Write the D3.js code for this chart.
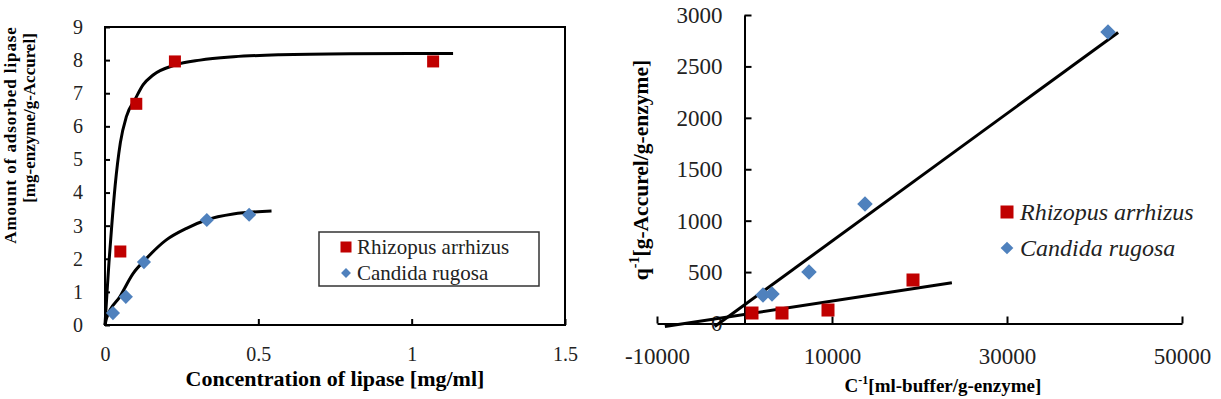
<!DOCTYPE html>
<html>
<head>
<meta charset="utf-8">
<script src="https://cdn.jsdelivr.net/npm/d3@7"></script>
<style>
body { margin: 0; background: white; }
svg text { font-family: "Liberation Serif", "Times New Roman", serif; }
</style>
</head>
<body>
<div id="chart"></div>
<script>
// Left plot: adsorption isotherm
const series_names = ["Rhizopus arrhizus", "Candida rugosa"];

const rhizopus_points = [
	{c: 0.05, q: 2.22},
	{c: 0.102, q: 6.68},
	{c: 0.228, q: 7.96},
	{c: 1.07, q: 7.96}
];
const candida_points = [
	{c: 0.026, q: 0.36},
	{c: 0.068, q: 0.85},
	{c: 0.127, q: 1.9},
	{c: 0.332, q: 3.17},
	{c: 0.47, q: 3.33}
];
// fitted curves
const rhizopus_fit = [
	{c: 0, q: 0}, {c: 0.006, q: 0.9}, {c: 0.013, q: 1.9}, {c: 0.022, q: 3.0},
	{c: 0.033, q: 4.2}, {c: 0.05, q: 5.5}, {c: 0.07, q: 6.3}, {c: 0.1, q: 6.85},
	{c: 0.124, q: 7.25}, {c: 0.157, q: 7.55}, {c: 0.228, q: 7.85}, {c: 0.31, q: 8.0},
	{c: 0.42, q: 8.1}, {c: 0.57, q: 8.16}, {c: 0.8, q: 8.19}, {c: 1.135, q: 8.2}
];
const candida_fit = [
	{c: 0, q: 0}, {c: 0.005, q: 0.2}, {c: 0.049, q: 0.86}, {c: 0.092, q: 1.56},
	{c: 0.13, q: 1.96}, {c: 0.2, q: 2.57}, {c: 0.266, q: 2.92}, {c: 0.33, q: 3.17},
	{c: 0.418, q: 3.35}, {c: 0.543, q: 3.44}
];
const left_x_ticks = [0, 0.5, 1, 1.5];
const left_y_ticks = [0, 1, 2, 3, 4, 5, 6, 7, 8, 9];

// Right plot: double reciprocal
const rhizopus_inv = [
	{x: 857, y: 102},
	{x: 4286, y: 102},
	{x: 9543, y: 131},
	{x: 19257, y: 423}
];
const candida_inv = [
	{x: 2114, y: 277},
	{x: 3143, y: 287},
	{x: 7371, y: 501},
	{x: 13771, y: 1162},
	{x: 41543, y: 2835}
];
const rhizopus_line = [{x: -9100, y: -30}, {x: 23700, y: 397}];
const candida_line = [{x: -3400, y: -30}, {x: 42700, y: 2830}];
const right_x_ticks = [-10000, 10000, 30000, 50000];
const right_y_ticks = [0, 500, 1000, 1500, 2000, 2500, 3000];

const red = "#c00000";
const blue = "#4f81bd";

const svg = d3.select("#chart").append("svg")
	.attr("width", 1221)
	.attr("height", 399);

function square(g, cx, cy, s, col) {
	g.append("rect")
		.attr("x", cx - s / 2).attr("y", cy - s / 2)
		.attr("width", s).attr("height", s)
		.attr("fill", col);
}
function diamond(g, cx, cy, s, col) {
	g.append("rect")
		.attr("x", -s / 2).attr("y", -s / 2)
		.attr("width", s).attr("height", s)
		.attr("fill", col)
		.attr("transform", `translate(${cx},${cy}) rotate(45)`);
}
function styleAxis(g, size) {
	g.attr("font-family", null);
	g.selectAll("line").attr("stroke", "#000").attr("stroke-width", 2);
	g.selectAll("text").attr("font-size", size).attr("fill", "#222");
}

// ---------- left chart ----------
const x1 = d3.scaleLinear().domain([0, 1.5]).range([105, 565]);
const y1 = d3.scaleLinear().domain([0, 9]).range([325, 27]);

const left = svg.append("g");

left.append("g")
	.attr("transform", "translate(0,325)")
	.call(d3.axisBottom(x1).tickValues(left_x_ticks).tickFormat(d => String(d)).tickSizeInner(-6).tickSizeOuter(0).tickPadding(22))
	.call(g => g.select(".domain").remove())
	.call(g => styleAxis(g, 20));

left.append("g")
	.attr("transform", "translate(105,0)")
	.call(d3.axisLeft(y1).tickValues(left_y_ticks).tickSizeInner(-5).tickSizeOuter(0).tickPadding(22))
	.call(g => g.select(".domain").remove())
	.call(g => styleAxis(g, 20));

left.append("rect")
	.attr("x", x1(0)).attr("y", y1(9))
	.attr("width", x1(1.5) - x1(0)).attr("height", y1(0) - y1(9))
	.attr("fill", "none").attr("stroke", "#000").attr("stroke-width", 2);

const fitLine1 = d3.line().x(d => x1(d.c)).y(d => y1(d.q)).curve(d3.curveMonotoneX);
[rhizopus_fit, candida_fit].forEach(f => {
	left.append("path").attr("d", fitLine1(f))
		.attr("fill", "none").attr("stroke", "#000").attr("stroke-width", 3);
});

rhizopus_points.forEach(d => square(left, x1(d.c), y1(d.q), 12, red));
candida_points.forEach(d => diamond(left, x1(d.c), y1(d.q), 10, blue));

// legend with box
left.append("rect")
	.attr("x", 319).attr("y", 232).attr("width", 220).attr("height", 54)
	.attr("fill", "white").attr("stroke", "#333").attr("stroke-width", 1.5);
square(left, 346, 247, 11, red);
diamond(left, 346, 273, 7, blue);
left.append("text").attr("x", 357).attr("y", 254).attr("font-size", 21).attr("fill", "#222").text(series_names[0]);
left.append("text").attr("x", 357).attr("y", 280).attr("font-size", 21).attr("fill", "#222").text(series_names[1]);

left.append("text")
	.attr("x", 335).attr("y", 386)
	.attr("text-anchor", "middle").attr("font-weight", "bold").attr("font-size", 22)
	.text("Concentration of lipase [mg/ml]");

left.append("text")
	.attr("transform", "translate(16,135) rotate(-90)")
	.attr("text-anchor", "middle").attr("font-weight", "bold").attr("font-size", 17)
	.attr("letter-spacing", 0.9)
	.text("Amount of adsorbed lipase");
left.append("text")
	.attr("transform", "translate(35,118) rotate(-90)")
	.attr("text-anchor", "middle").attr("font-weight", "bold").attr("font-size", 17)
	.text("[mg-enzyme/g-Accurel]");

// ---------- right chart ----------
const x2 = d3.scaleLinear().domain([-10000, 50000]).range([657, 1182]);
const y2 = d3.scaleLinear().domain([0, 3000]).range([323.5, 15]);

const right = svg.append("g");

right.append("g")
	.attr("transform", `translate(0,${y2(0)})`)
	.call(d3.axisBottom(x2).tickValues(right_x_ticks).tickFormat(d => String(d)).tickSizeInner(-7).tickSizeOuter(0).tickPadding(24))
	.call(g => g.select(".domain").attr("stroke", "#000").attr("stroke-width", 2))
	.call(g => styleAxis(g, 23));

right.append("g")
	.attr("transform", `translate(${x2(0)},0)`)
	.call(d3.axisLeft(y2).tickValues(right_y_ticks).tickFormat(d => String(d)).tickSizeInner(-7).tickSizeOuter(0).tickPadding(22))
	.call(g => g.select(".domain").attr("stroke", "#000").attr("stroke-width", 2))
	.call(g => styleAxis(g, 23));

const fitLine2 = d3.line().x(d => x2(d.x)).y(d => y2(d.y));
[rhizopus_line, candida_line].forEach(f => {
	right.append("path").attr("d", fitLine2(f))
		.attr("fill", "none").attr("stroke", "#000").attr("stroke-width", 3);
});

rhizopus_inv.forEach(d => square(right, x2(d.x), y2(d.y), 13, red));
candida_inv.forEach(d => diamond(right, x2(d.x), y2(d.y), 11, blue));

square(right, 1007, 212, 13, red);
diamond(right, 1007, 248, 9, blue);
right.append("text").attr("x", 1020).attr("y", 220).attr("font-size", 24).attr("font-style", "italic").attr("fill", "#222").text(series_names[0]);
right.append("text").attr("x", 1020).attr("y", 256).attr("font-size", 24).attr("font-style", "italic").attr("fill", "#222").text(series_names[1]);

const xl = right.append("text")
	.attr("x", 943).attr("y", 392)
	.attr("text-anchor", "middle").attr("font-weight", "bold").attr("font-size", 19);
xl.append("tspan").text("C");
xl.append("tspan").attr("font-size", 12).attr("dy", -8).text("-1");
xl.append("tspan").attr("dy", 8).text("[ml-buffer/g-enzyme]");

const yl = right.append("text")
	.attr("transform", "translate(648,170) rotate(-90)")
	.attr("text-anchor", "middle").attr("font-weight", "bold").attr("font-size", 21.5);
yl.append("tspan").text("q");
yl.append("tspan").attr("font-size", 14).attr("dy", -9).text("-1");
yl.append("tspan").attr("dy", 9).text("[g-Accurel/g-enzyme]");
</script>
</body>
</html>
